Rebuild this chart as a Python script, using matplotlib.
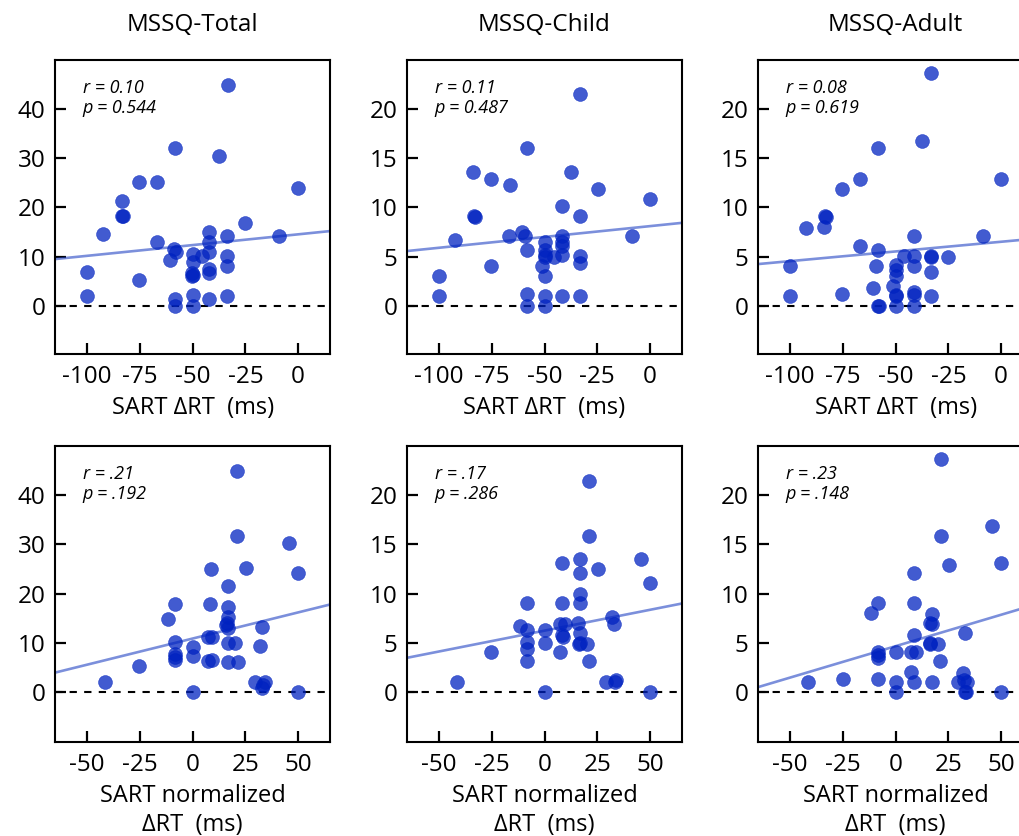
import numpy as np
import matplotlib.pyplot as plt

plt.rcParams['font.family'] = ['Open Sans', 'DejaVu Sans']
plt.rcParams['axes.unicode_minus'] = False

# column titles and annotations
titles = ['MSSQ-Total', 'MSSQ-Child', 'MSSQ-Adult']
stats_top = [('0.10', '0.544'), ('0.11', '0.487'), ('0.08', '0.619')]
stats_bot = [('.21', '.192'), ('.17', '.286'), ('.23', '.148')]

# top row: SART delta RT (ms) vs MSSQ scores
rt_total_x = [-33, -58.5, -37.5, -75.5, -67, 0, -83.5, -83.5, -83, -25, -92.5, -42, -33.5,
              -9, -67, -42, -42, -59, -58, -50, -45.5, -33.5, -60.5, -50, -100, -33.5, -42,
              -42, -50.5, -50.5, -50, -75.5, -100, -50, -33.5, -58.5, -42, -58.5, -50]
rt_total_y = [45.0, 32.0, 30.4, 25.1, 25.1, 23.9, 21.4, 18.2, 18.2, 16.9, 14.6, 15.0, 14.2,
              14.1, 12.9, 13.0, 11.0, 11.5, 11.0, 10.6, 10.1, 10.1, 9.3, 8.9, 6.9, 8.0, 7.5,
              6.6, 6.6, 6.0, 6.2, 5.3, 2.0, 2.1, 2.0, 1.4, 1.3, 0, 0]

rt_child_x = [-33, -58.5, -84, -37.5, -75.5, -66.5, -24.5, 0, -41.5, -83.5, -83, -33, -92.5,
              -67, -60.5, -59.5, -58.5, -8.5, -75.5, -100, -100, -58.5, -58.5, -50, -50, -41.5,
              -33, -50, -51, -50, -50, -50, -50, -45.5, -41.5, -41.5, -41.5, -41.5, -33, -33]
rt_child_y = [21.5, 16.0, 13.6, 13.6, 12.9, 12.3, 11.9, 10.9, 10.1, 9.1, 9.0, 9.1, 6.7,
              7.1, 7.5, 7.1, 5.7, 7.1, 4.0, 3.0, 1.0, 1.2, 0, 0, 1.0, 1.0,
              1.0, 3.0, 4.0, 6.5, 5.7, 5.2, 5.0, 5.0, 7.1, 6.5, 6.1, 5.2, 5.1, 4.4]

rt_adult_x = [-33, -37.5, -58.5, -67, 0, -75.5, -83.5, -83, -84, -92.5, -67, -41.5, -8.5,
              -58.5, -46, -41.5, -33, -33, -25, -100, -59.5, -50, -50, -50, -41.5, -33,
              -60.5, -51, -75.5, -100, -50, -50, -41.5, -41.5, -33, -58.5, -58, -50, -41.5]
rt_adult_y = [23.7, 16.8, 16.0, 12.9, 12.9, 11.9, 9.1, 9.0, 8.0, 7.9, 6.1, 7.1, 7.1,
              5.7, 5.1, 5.1, 5.1, 5.0, 5.0, 4.0, 4.0, 4.1, 3.6, 3.0, 4.0, 3.4,
              1.8, 2.0, 1.2, 1.0, 1.1, 1.0, 1.4, 1.1, 1.0, 0, 0, 0, 0]

# bottom row: SART normalized delta RT (ms) vs MSSQ scores
norm_total_x = [21, 21, 45.5, 8.5, 25.5, 50, 17, -8.3, 8.3, 17, -11.5, 17, 16.5, 16, 17, 33,
                -8.3, 0, 7.5, 9, 16.8, 20.3, 32, -8.5, -8.5, -8.5, 0, 7.5, 9, 16.8, 21.3,
                -25.3, -41.3, 29.6, 34.2, 33.5, 33, 0, 50]
norm_total_y = [44.9, 31.8, 30.2, 24.9, 25.3, 24.1, 21.6, 17.9, 17.9, 17.2, 14.8, 15.2, 14.0,
                13.6, 12.9, 13.1, 10.2, 9.1, 11.2, 11.1, 9.9, 9.9, 9.4, 7.7, 7.0, 6.5, 7.3,
                6.2, 6.5, 6.1, 6.1, 5.3, 2.0, 2.1, 2.1, 1.3, 0.7, 0, 0]

norm_child_x = [21, 21, 17, 45.5, 8.3, 25.3, 17, 50, 17, -8.5, 8.3, 17, -11.5, -8.5, 0, 7.3,
                9.8, 16, 31.8, 33, -8.5, -8.5, 0, 8.3, 8.6, 16.8, 16.8, 16.5, 20.3, -25.3,
                7.3, -8.5, 21, -41.5, 29.2, 33.7, 33.4, 0, 50]
norm_child_y = [21.5, 15.9, 13.5, 13.5, 13.1, 12.5, 12.1, 11.05, 10.0, 9.0, 9.0, 9.0, 6.7,
                6.3, 6.3, 6.9, 6.9, 7.0, 7.6, 6.9, 5.1, 4.4, 4.95, 5.8, 5.6, 5.97, 5.0, 4.85,
                4.9, 4.1, 4.1, 3.1, 3.1, 1.05, 1.05, 1.2, 1.0, 0, 0]

norm_adult_x = [21.4, 45.7, 21.4, 50, 25.4, 8.6, -8.3, 8.5, -11.7, 17.1, 16.3, 17.1, 33, 8.5,
                16.3, 16.5, 20.3, -8.3, -8.3, -8.3, 0, 7.5, 9.6, 21.1, 7.3, 31.9, -41.4,
                -25.1, -8.3, 0, 8.5, 17.1, 29.4, 34, 32.5, 0, 32.7, 33.2, 50]
norm_adult_y = [23.7, 16.9, 15.9, 13.1, 12.9, 12.1, 9.0, 9.0, 8.0, 7.9, 7.0, 6.9, 5.95, 5.8,
                4.95, 4.9, 4.9, 4.1, 3.8, 3.4, 4.1, 4.1, 4.1, 3.1, 2.07, 1.9, 1.02,
                1.3, 1.3, 1.05, 1.05, 1.0, 1.05, 1.05, 1.2, 0, 0, 0, 0]

# regression lines (slope, intercept)
fit_top = [(0.0437, 14.53), (0.0220, 8.10), (0.0197, 6.51)]
fit_bot = [(0.1063, 10.85), (0.0424, 6.23), (0.0639, 4.65)]

top_data = [(rt_total_x, rt_total_y), (rt_child_x, rt_child_y), (rt_adult_x, rt_adult_y)]
bot_data = [(norm_total_x, norm_total_y), (norm_child_x, norm_child_y),
            (norm_adult_x, norm_adult_y)]

fig = plt.figure(figsize=(10.19, 8.36), dpi=100)

lefts = [0.054, 0.3994, 0.7439]
w = 0.270
rows = [(0.5766, 0.3517), (0.1124, 0.3540)]

dot_color = '#0022c0'
line_color = '#2445c4'


def style_axes(ax):
    for s in ax.spines.values():
        s.set_linewidth(1.5)
        s.set_color('black')
    ax.tick_params(direction='in', length=8, width=1.6, labelsize=17.5, colors='black')
    ax.tick_params(axis='y', pad=7)
    ax.tick_params(axis='x', pad=8)


def draw(ax, x, y, fit, stats):
    ax.axhline(0, color='black', linestyle=(0, (3.5, 3.5)), linewidth=1.5, zorder=1)
    m, b = fit
    ax.axline((0, b), slope=m, color=line_color, alpha=0.6, linewidth=1.9, zorder=2)
    ax.scatter(x, y, s=100, color=dot_color, alpha=0.74, edgecolors=dot_color,
               linewidths=0.4, zorder=3)
    r, p = stats
    ax.text(0.10, 0.935, 'r = ' + r + '\np = ' + p, transform=ax.transAxes,
            fontsize=13, style='italic', va='top', ha='left', linespacing=1.15)
    style_axes(ax)


for i in range(3):
    # top row
    ax = fig.add_axes([lefts[i], rows[0][0], w, rows[0][1]])
    x, y = top_data[i]
    draw(ax, x, y, fit_top[i], stats_top[i])
    ax.set_xlim(-115.2, 15.2)
    ax.set_xticks([-100, -75, -50, -25, 0])
    if i == 0:
        ax.set_ylim(-9.8, 50)
        ax.set_yticks([0, 10, 20, 30, 40])
    else:
        ax.set_ylim(-4.9, 25)
        ax.set_yticks([0, 5, 10, 15, 20])
    ax.set_xlabel('SART ΔRT  (ms)', fontsize=17, labelpad=5)
    ax.set_title(titles[i], fontsize=17.5, pad=21)

    # bottom row
    ax = fig.add_axes([lefts[i], rows[1][0], w, rows[1][1]])
    x, y = bot_data[i]
    draw(ax, x, y, fit_bot[i], stats_bot[i])
    ax.set_xlim(-65.2, 65.2)
    ax.set_xticks([-50, -25, 0, 25, 50])
    if i == 0:
        ax.set_ylim(-10.2, 50)
        ax.set_yticks([0, 10, 20, 30, 40])
    else:
        ax.set_ylim(-5.1, 25)
        ax.set_yticks([0, 5, 10, 15, 20])
    ax.set_xlabel('SART normalized\nΔRT  (ms)', fontsize=17, labelpad=5, linespacing=1.25)

fig.savefig('out.png', dpi=100)
